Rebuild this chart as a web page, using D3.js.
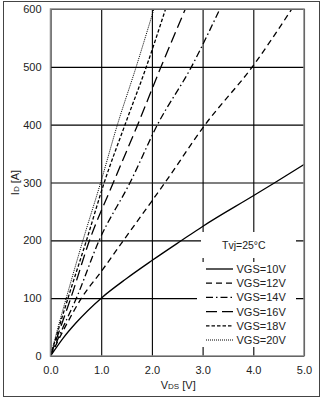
<!DOCTYPE html>
<html>
<head>
<meta charset="utf-8">
<script src="https://cdn.jsdelivr.net/npm/d3@7"></script>
<style>
  body { margin: 0; background: #fff; }
  svg { display: block; font-family: "Liberation Sans", Arial, sans-serif; }
</style>
</head>
<body>
<script>
// * DATA
const xTicks = [0, 1, 2, 3, 4, 5];
const yTicks = [0, 100, 200, 300, 400, 500, 600];
const tempLabel = "Tvj=25°C";

const vgsLabels = ["VGS=10V", "VGS=12V", "VGS=14V", "VGS=16V", "VGS=18V", "VGS=20V"];

const vds10 = [0, 0.25, 0.5, 1.0, 1.5, 2.0, 2.59, 3.0, 4.0, 4.43, 5.0];
const id10 = [0, 31, 57, 100, 134, 165, 200, 224, 277, 300, 331];

const vds12 = [0, 0.3, 0.61, 1.0, 1.44, 2.0, 2.26, 3.05, 3.98, 4.76];
const id12 = [0, 52, 100, 146, 200, 268, 300, 400, 500, 600];

const vds14 = [0, 0.25, 0.51, 0.96, 1.57, 2.11, 2.78, 3.34];
const id14 = [0, 50, 100, 200, 300, 400, 500, 600];

const vds16 = [0, 0.2, 0.4, 0.77, 1.24, 1.72, 2.18, 2.66];
const id16 = [0, 50, 100, 200, 300, 400, 500, 600];

const vds18 = [0, 0.17, 0.345, 0.71, 1.06, 1.47, 1.89, 2.27];
const id18 = [0, 50, 100, 200, 300, 400, 500, 600];

const vds20 = [0, 0.15, 0.31, 0.64, 0.99, 1.32, 1.69, 2.04];
const id20 = [0, 50, 100, 200, 300, 400, 500, 600];

const seriesVds = [vds10, vds12, vds14, vds16, vds18, vds20];
const seriesId = [id10, id12, id14, id16, id18, id20];
const dashes = [null, "6,4", "7,3,1.5,3", "11,5", "3.5,2", "1,1"];

// * SETUP
const width = 324, height = 400;
const margin = { top: 9, right: 20, bottom: 44, left: 50.5 };

const x = d3.scaleLinear().domain([0, 5]).range([margin.left, width - margin.right]);
const y = d3.scaleLinear().domain([0, 600]).range([height - margin.bottom, margin.top]);

const svg = d3.select("body").append("svg")
  .attr("width", width)
  .attr("height", height)
  .attr("viewBox", [0, 0, width, height]);

// outer frame
svg.append("rect")
  .attr("x", 3.5).attr("y", 1.5)
  .attr("width", 316).attr("height", 395)
  .attr("fill", "#fff")
  .attr("stroke", "#444")
  .attr("stroke-width", 1);

// * GRID + TICK LABELS
const plotW = x(5) - x(0), plotH = y(0) - y(600);

svg.append("g")
  .attr("transform", `translate(0,${y(0)})`)
  .call(d3.axisBottom(x).tickValues(xTicks).tickFormat(d3.format(".1f"))
    .tickSize(-plotH).tickPadding(10))
  .call(g => g.select(".domain").remove())
  .call(g => g.selectAll(".tick line").attr("stroke", "#000").attr("stroke-width", 1.1))
  .call(g => g.selectAll(".tick text").attr("font-size", 11).attr("fill", "#222")
    .attr("font-family", "Liberation Sans, Arial, sans-serif"));

svg.append("g")
  .attr("transform", `translate(${x(0)},0)`)
  .call(d3.axisLeft(y).tickValues(yTicks).tickFormat(d3.format("d"))
    .tickSize(-plotW).tickPadding(9))
  .call(g => g.select(".domain").remove())
  .call(g => g.selectAll(".tick line").attr("stroke", "#000").attr("stroke-width", 1.1))
  .call(g => g.selectAll(".tick text").attr("font-size", 11).attr("fill", "#222")
    .attr("font-family", "Liberation Sans, Arial, sans-serif"));

// white boxes behind legend texts (they hide the grid)
svg.append("rect")
  .attr("x", 201).attr("y", 232).attr("width", 95).attr("height", 26)
  .attr("fill", "#fff");
svg.append("rect")
  .attr("x", 197).attr("y", 262).attr("width", 99).attr("height", 85)
  .attr("fill", "#fff");

// * CURVES
const line = d3.line()
  .x(d => x(d[0]))
  .y(d => y(d[1]))
  .curve(d3.curveMonotoneX);

const clip = svg.append("clipPath").attr("id", "plotclip")
  .append("rect")
  .attr("x", x(0)).attr("y", y(600))
  .attr("width", plotW).attr("height", plotH);

svg.append("g")
  .attr("clip-path", "url(#plotclip)")
  .selectAll("path")
  .data(seriesVds.map((v, i) => v.map((vd, j) => [vd, seriesId[i][j]])))
  .join("path")
  .attr("fill", "none")
  .attr("stroke", "#000")
  .attr("stroke-width", (d, i) => (i === 5 ? 1 : 1.3))
  .attr("stroke-dasharray", (d, i) => dashes[i])
  .attr("d", line);

// plot border
svg.append("rect")
  .attr("x", x(0)).attr("y", y(600))
  .attr("width", plotW).attr("height", plotH)
  .attr("fill", "none")
  .attr("stroke", "#888")
  .attr("stroke-width", 1.5);

// * LEGEND
svg.append("text")
  .attr("x", 222).attr("y", 249)
  .attr("font-size", 10.5)
  .attr("fill", "#222")
  .text(tempLabel);

const legend = svg.append("g").attr("transform", "translate(206,269)");
const rowH = 14.2;
vgsLabels.forEach((label, i) => {
  const row = legend.append("g").attr("transform", `translate(0,${i * rowH})`);
  row.append("line")
    .attr("x1", 0).attr("x2", 27)
    .attr("y1", 0).attr("y2", 0)
    .attr("stroke", "#000")
    .attr("stroke-width", i === 5 ? 1 : 1.3)
    .attr("stroke-dasharray", dashes[i]);
  row.append("text")
    .attr("x", 30.5).attr("y", 4)
    .attr("font-size", 11)
    .attr("fill", "#222")
    .text(label);
});

// * AXIS TITLES
const xt = svg.append("text")
  .attr("x", (x(0) + x(5)) / 2 + 1).attr("y", 389)
  .attr("text-anchor", "middle")
  .attr("fill", "#222")
  .attr("font-size", 11);
xt.append("tspan").text("V");
xt.append("tspan").attr("font-size", 8).text("DS");
xt.append("tspan").text(" [V]");

const yt = svg.append("text")
  .attr("transform", `translate(19,${(y(0) + y(600)) / 2}) rotate(-90)`)
  .attr("text-anchor", "middle")
  .attr("fill", "#222")
  .attr("font-size", 11);
yt.append("tspan").text("I");
yt.append("tspan").attr("font-size", 8).text("D");
yt.append("tspan").text(" [A]");
</script>
</body>
</html>
